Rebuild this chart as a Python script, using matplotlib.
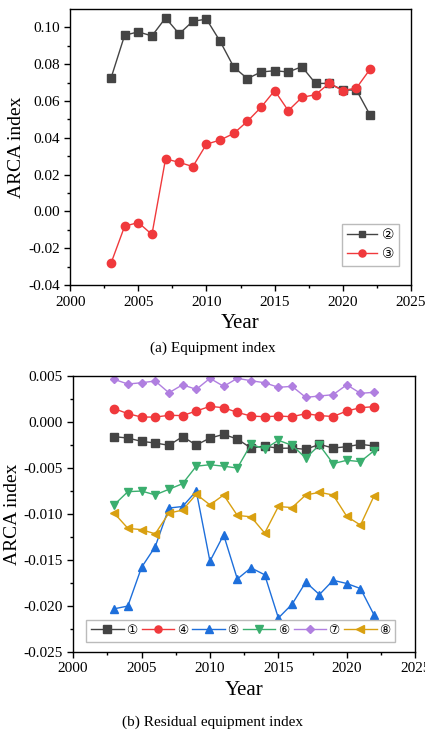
import matplotlib.pyplot as plt
import numpy as np

plt.rcParams['font.family'] = ['Liberation Serif', 'DejaVu Sans']

years = np.arange(2003, 2023)

# (a) Equipment index
eq2 = [0.0725, 0.0958, 0.0976, 0.0954, 0.1052, 0.0965, 0.1034, 0.1045, 0.0925, 0.0785,
       0.0722, 0.0758, 0.0765, 0.0758, 0.0787, 0.0696, 0.0696, 0.0660, 0.0660, 0.0524]
eq3 = [-0.0281, -0.0080, -0.0060, -0.0125, 0.0286, 0.0267, 0.0244, 0.0366, 0.0388, 0.0424,
       0.0490, 0.0566, 0.0657, 0.0548, 0.0620, 0.0635, 0.0696, 0.0657, 0.0671, 0.0773]

# (b) Residual equipment index
res1 = [-0.00159, -0.00174, -0.00210, -0.00228, -0.00253, -0.00159, -0.00250, -0.00174, -0.00134, -0.00185,
        -0.00283, -0.00261, -0.00286, -0.00283, -0.00297, -0.00242, -0.00283, -0.00268, -0.00242, -0.00261]
res4 = [0.00146, 0.00091, 0.00054, 0.00054, 0.00073, 0.00070, 0.00120, 0.00170, 0.00156, 0.00105,
        0.00065, 0.00058, 0.00065, 0.00058, 0.00091, 0.00070, 0.00060, 0.00120, 0.00156, 0.00167]
res5 = [-0.0203, -0.0200, -0.0158, -0.01355, -0.00935, -0.00918, -0.0075, -0.01513, -0.01226, -0.01706,
        -0.01585, -0.0166, -0.0213, -0.0198, -0.0174, -0.01875, -0.0172, -0.01755, -0.0181, -0.0210]
res6 = [-0.0090, -0.00757, -0.0075, -0.00792, -0.00731, -0.0067, -0.0048, -0.00464, -0.0048, -0.0050,
        -0.00242, -0.00293, -0.00199, -0.00253, -0.00391, -0.0025, -0.00452, -0.00416, -0.0043, -0.00311]
res7 = [0.00464, 0.00413, 0.00427, 0.00446, 0.00318, 0.00405, 0.00355, 0.00475, 0.00388, 0.00475,
        0.00449, 0.00427, 0.00377, 0.00388, 0.00268, 0.00283, 0.00297, 0.00405, 0.00312, 0.00323]
res8 = [-0.0099, -0.01155, -0.0117, -0.01215, -0.0099, -0.00957, -0.00785, -0.0090, -0.00793, -0.01015,
        -0.0103, -0.01207, -0.00918, -0.0093, -0.00793, -0.00764, -0.00793, -0.01026, -0.0112, -0.0080]

fig = plt.figure(figsize=(4.25, 7.31), dpi=100)
ax1 = fig.add_axes([0.165, 0.610, 0.802, 0.3776])
ax2 = fig.add_axes([0.172, 0.108, 0.805, 0.3776])

ax1.plot(years, eq2, color='#444444', marker='s', ms=5.5, lw=1, label='②')
ax1.plot(years, eq3, color='#F0393C', marker='o', ms=6, lw=1, label='③')
ax1.set_ylim(-0.04, 0.11)
ax1.set_yticks(np.arange(-0.04, 0.101, 0.02))
ax1.yaxis.set_major_formatter(plt.FormatStrFormatter('%.2f'))

series = [(res1, '#444444', 's', '①'), (res4, '#F0393C', 'o', '④'), (res5, '#1E6FDB', '^', '⑤'),
          (res6, '#3AAE6E', 'v', '⑥'), (res7, '#B07FE0', 'D', '⑦'), (res8, '#D9A011', '<', '⑧')]
for vals, c, m, lab in series:
    ms = 4.5 if m == 'D' else 6
    ax2.plot(years, vals, color=c, marker=m, ms=ms, lw=1, label=lab)
ax2.set_ylim(-0.025, 0.005)
ax2.set_yticks(np.arange(-0.025, 0.0051, 0.005))
ax2.yaxis.set_major_formatter(plt.FormatStrFormatter('%.3f'))

for ax in (ax1, ax2):
    ax.set_xlim(2000, 2025)
    ax.set_xticks(range(2000, 2026, 5))
    ax.set_xticks(np.arange(2002.5, 2025, 5), minor=True)
    yt = ax.get_yticks()
    ax.set_yticks((yt[:-1] + yt[1:]) / 2, minor=True)
    ax.tick_params(which='major', direction='out', length=4, width=1, labelsize=11)
    ax.tick_params(which='minor', direction='out', length=2.5, width=1)
    for s in ax.spines.values():
        s.set_linewidth(1)
    ax.set_xlabel('Year', fontsize=15, labelpad=4)
    ax.set_ylabel('ARCA index', fontsize=14, labelpad=2)

ax1.legend(loc='lower right', bbox_to_anchor=(0.985, 0.045), fontsize=10, handlelength=2.2,
           fancybox=False, edgecolor='#BBBBBB', framealpha=1, borderpad=0.35, labelspacing=0.45,
           handletextpad=0.3, markerscale=0.85)
ax2.legend(loc='lower center', bbox_to_anchor=(0.49, 0.015), ncol=6, fontsize=9, handlelength=2.6,
           fancybox=False, edgecolor='#BBBBBB', framealpha=1, borderpad=0.4, columnspacing=0.35,
           handletextpad=0.2, markerscale=0.85)

fig.text(0.5, 1 - 348 / 731, '(a) Equipment index', ha='center', va='center', fontsize=11)
fig.text(0.5, 1 - 722 / 731, '(b) Residual equipment index', ha='center', va='center', fontsize=11)

fig.savefig('out.png', dpi=100)
